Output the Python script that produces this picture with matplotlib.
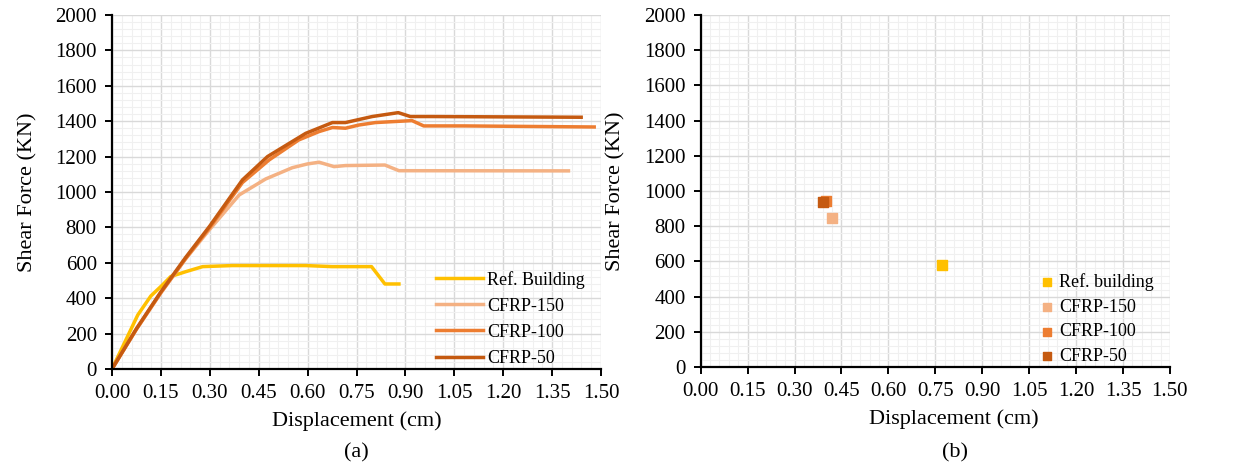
import matplotlib.pyplot as plt
from matplotlib.ticker import MultipleLocator, AutoMinorLocator

plt.rcParams['font.family'] = ['Liberation Serif', 'DejaVu Serif']

# pushover curves (displacement cm, shear force kN)
ref_x = [0, 0.079, 0.119, 0.155, 0.18, 0.227, 0.278, 0.369, 0.594, 0.675, 0.796, 0.837, 0.88]
ref_y = [0, 305, 412, 475, 522, 550, 578, 584, 584, 578, 578, 480, 480]

c150_x = [0, 0.075, 0.15, 0.225, 0.298, 0.39, 0.471, 0.553, 0.599, 0.635, 0.681, 0.716, 0.837, 0.88, 1.40]
c150_y = [0, 225, 430, 620, 785, 983, 1073, 1137, 1158, 1168, 1143, 1149, 1152, 1120, 1119]

c100_x = [0, 0.075, 0.15, 0.225, 0.30, 0.40, 0.482, 0.573, 0.635, 0.676, 0.716, 0.757, 0.808, 0.90, 0.92, 0.956, 1.08, 1.479]
c100_y = [0, 225, 432, 622, 800, 1053, 1181, 1294, 1341, 1364, 1360, 1378, 1392, 1401, 1403, 1373, 1373, 1367]

c50_x = [0, 0.075, 0.15, 0.225, 0.30, 0.40, 0.477, 0.594, 0.676, 0.716, 0.798, 0.878, 0.915, 0.982, 1.439]
c50_y = [0, 228, 436, 628, 808, 1068, 1200, 1331, 1392, 1392, 1426, 1448, 1426, 1426, 1422]

# ultimate points
pt_names = ['Ref. building', 'CFRP-150', 'CFRP-100', 'CFRP-50']
pt_x = [0.772, 0.421, 0.40, 0.391]
pt_y = [580, 848, 945, 935]

colors = ['#FFC000', '#F4B183', '#ED7D31', '#C55A11']

fig = plt.figure(figsize=(12.38, 4.67), dpi=100)
ax1 = fig.add_axes([0.0905, 0.21, 0.395, 0.758])
ax2 = fig.add_axes([0.566, 0.214, 0.379, 0.754])

for ax in (ax1, ax2):
    ax.set_xlim(0, 1.5)
    ax.set_ylim(0, 2000)
    ax.xaxis.set_major_locator(MultipleLocator(0.15))
    ax.yaxis.set_major_locator(MultipleLocator(200))
    ax.xaxis.set_minor_locator(AutoMinorLocator(5))
    ax.yaxis.set_minor_locator(AutoMinorLocator(5))
    ax.grid(which='major', color='#d9d9d9', lw=1.0)
    ax.grid(which='minor', color='#f0f0f0', lw=0.8)
    ax.set_axisbelow(True)
    for s in ('top', 'right'):
        ax.spines[s].set_visible(False)
    for s in ('left', 'bottom'):
        ax.spines[s].set_linewidth(1.6)
    ax.tick_params(which='major', direction='out', length=5, width=1.4, labelsize=15)
    ax.tick_params(axis='x', pad=6)
    ax.tick_params(axis='y', pad=6)
    ax.tick_params(which='minor', length=0)
    ax.set_xticklabels(['%.2f' % v for v in ax.get_xticks()])
    ax.set_xlabel('Displacement (cm)', fontsize=16, labelpad=4)
    ax.set_ylabel('Shear Force (KN)', fontsize=16, labelpad=13)

ax2.xaxis.set_label_coords(0.54, -0.12)
ax1.xaxis.set_label_coords(0.5, -0.12)

series = [(ref_x, ref_y, 'Ref. Building'), (c150_x, c150_y, 'CFRP-150'),
          (c100_x, c100_y, 'CFRP-100'), (c50_x, c50_y, 'CFRP-50')]
for (x, y, lab), c in zip(series, colors):
    ax1.plot(x, y, color=c, lw=2.5, label=lab)
ax1.legend(loc='lower right', frameon=False, fontsize=13, handlelength=2.6,
           handletextpad=0.2, labelspacing=0.5, bbox_to_anchor=(1.0, -0.04))

for n, x, y, c in zip(pt_names, pt_x, pt_y, colors):
    ax2.scatter(x, y, marker='s', s=60, color=c, label=n, zorder=3)
ax2.legend(loc='lower right', frameon=False, fontsize=13, handletextpad=-0.35,
           labelspacing=0.42, markerscale=0.8, bbox_to_anchor=(1.0, -0.04))

fig.text(0.0905 + 0.395 / 2, 0.02, '(a)', ha='center', fontsize=16)
fig.text(955 / 1238, 0.02, '(b)', ha='center', fontsize=16)

fig.savefig('out.png', dpi=100)
